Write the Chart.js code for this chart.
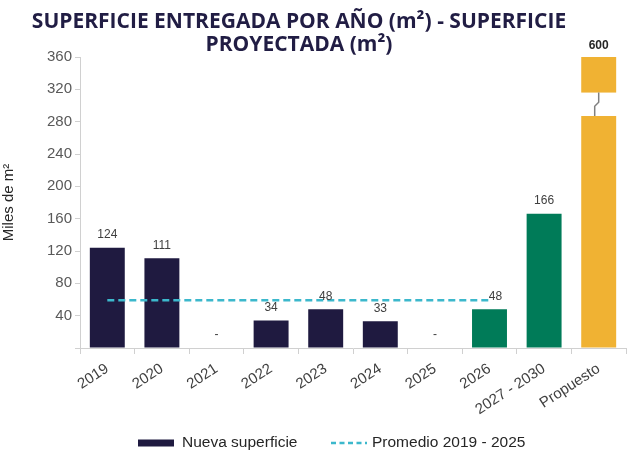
<!DOCTYPE html>
<html>
<head>
<meta charset="utf-8">
<script src="https://cdn.jsdelivr.net/npm/chart.js@4.4.1/dist/chart.umd.min.js"></script>
<style>
  html, body { margin: 0; padding: 0; background: #fff; }
  #wrap { width: 627px; height: 463px; position: relative; }
</style>
</head>
<body>
<div id="wrap"><canvas id="supChart"></canvas></div>
<script>
// chart data
var categories = ['2019', '2020', '2021', '2022', '2023', '2024', '2025', '2026', '2027 - 2030', 'Propuesto'];
var superficie = [124, 111, 0, 34, 48, 33, 0, 48, 166, 600];
var promedio = [59, 59, 59, 59, 59, 59, 59, 59, null, null];
var yTicks = [0, 40, 80, 120, 160, 200, 240, 280, 320, 360];
var breakFrom = 287, breakTo = 316;   // axis break on the Propuesto bar

var titleLines = ['SUPERFICIE ENTREGADA POR AÑO (m\u00B2) - SUPERFICIE', 'PROYECTADA (m\u00B2)'];

var navy = '#1f1a40', green = '#007b58', orange = '#f0b233', cyan = '#3cb8cc';
var barColors = [navy, navy, navy, navy, navy, navy, navy, green, green, orange];

// title drawn a bit left of centre, like the original
var titlePlugin = {
  id: 'leftTitle',
  afterDraw: function(chart) {
    var ctx = chart.ctx;
    ctx.save();
    ctx.fillStyle = '#211d44';
    ctx.font = 'bold 21px "Open Sans"';
    ctx.textAlign = 'center';
    ctx.textBaseline = 'middle';
    ctx.fillText(titleLines[0], 299, 22);
    ctx.fillText(titleLines[1], 299, 45);
    ctx.restore();
  }
};

// legend row under the axis (offset to the right like the original)
var legendPlugin = {
  id: 'bottomLegend',
  afterDraw: function(chart) {
    var ctx = chart.ctx;
    var ds = chart.data.datasets;
    var cy = 443;
    ctx.save();
    ctx.font = '15.5px "Liberation Sans"';
    ctx.fillStyle = '#262626';
    ctx.textBaseline = 'middle';
    ctx.textAlign = 'left';
    // bar item
    ctx.fillStyle = navy;
    ctx.fillRect(138, cy - 3.5, 36, 7);
    ctx.fillStyle = '#262626';
    ctx.fillText(ds[1].label, 182, cy);
    // line item
    ctx.strokeStyle = cyan;
    ctx.lineWidth = 2.5;
    ctx.setLineDash([5, 3.5]);
    ctx.beginPath();
    ctx.moveTo(331, cy);
    ctx.lineTo(367, cy);
    ctx.stroke();
    ctx.setLineDash([]);
    ctx.fillText(ds[0].label, 372, cy);
    ctx.restore();
  }
};

// axis break + value labels
var labelPlugin = {
  id: 'barLabels',
  afterDatasetsDraw: function(chart) {
    var ctx = chart.ctx;
    var y = chart.scales.y;
    var meta = chart.getDatasetMeta(1);
    ctx.save();
    meta.data.forEach(function(bar, i) {
      var v = superficie[i];
      if (v > y.max) {
        var top = y.getPixelForValue(breakTo), bot = y.getPixelForValue(breakFrom);
        var l = bar.x - bar.width / 2 - 1;
        ctx.fillStyle = '#fff';
        ctx.fillRect(l, top, bar.width + 2, bot - top);
        var mid = (top + bot) / 2;
        ctx.strokeStyle = '#808080';
        ctx.lineWidth = 1.5;
        ctx.beginPath();
        ctx.moveTo(bar.x, top);
        ctx.lineTo(bar.x, mid - 2);
        ctx.lineTo(bar.x - 4, mid + 2);
        ctx.lineTo(bar.x - 4, bot);
        ctx.stroke();
      }
      var ty = Math.max(bar.y, chart.chartArea.top) - (v > y.max ? 11 : 13);
      ctx.fillStyle = v > y.max ? '#262626' : '#404040';
      ctx.font = (v > y.max ? 'bold ' : '') + '12px "Liberation Sans"';
      ctx.textAlign = 'center';
      ctx.textBaseline = 'middle';
      ctx.fillText(v === 0 ? '-' : String(v), bar.x + (i === 7 ? 6 : 0), ty);
    });
    ctx.restore();
  }
};

var ctx = document.getElementById('supChart').getContext('2d');

var supChart = new Chart(ctx, {
  data: {
    labels: categories,
    datasets: [
      {
        type: 'line',
        label: 'Promedio 2019 - 2025',
        data: promedio,
        borderColor: cyan,
        borderWidth: 2.5,
        borderDash: [7, 4],
        pointRadius: 0,
        order: 0
      },
      {
        type: 'bar',
        label: 'Nueva superficie',
        data: superficie,
        backgroundColor: function(c) { return barColors[c.dataIndex] || navy; },
        barPercentage: 0.64,
        categoryPercentage: 1,
        order: 1
      }
    ]
  },
  options: {
    responsive: true,
    maintainAspectRatio: false,
    animation: false,
    layout: { padding: { top: 57, right: 1, bottom: 35, left: 0 } },
    plugins: {
      tooltip: { enabled: false },
      legend: { display: false }
    },
    scales: {
      x: {
        grid: { offset: true, drawOnChartArea: false, tickLength: 6, color: '#d0d0d0' },
        border: { color: '#d0d0d0' },
        ticks: {
          minRotation: 33, maxRotation: 33, color: '#404040', padding: 6,
          font: { family: 'Liberation Sans', size: 15 }
        },
        afterFit: function(s) { s.height = 80; }
      },
      y: {
        min: 0,
        max: 360,
        afterBuildTicks: function(s) { s.ticks = yTicks.map(function(v) { return { value: v }; }); },
        grid: { drawOnChartArea: false, tickLength: 5, color: '#d0d0d0' },
        border: { color: '#d0d0d0' },
        ticks: {
          color: '#595959', padding: 3,
          font: { family: 'Liberation Sans', size: 15 },
          callback: function(v) { return v === 0 ? '' : v; }
        },
        title: {
          display: true, text: 'Miles de m\u00B2', color: '#262626',
          font: { family: 'Liberation Sans', size: 15 }, padding: { top: 0, bottom: 4 }
        },
        afterFit: function(s) { s.width = 80; }
      }
    }
  },
  plugins: [labelPlugin, titlePlugin, legendPlugin]
});
</script>
</body>
</html>
